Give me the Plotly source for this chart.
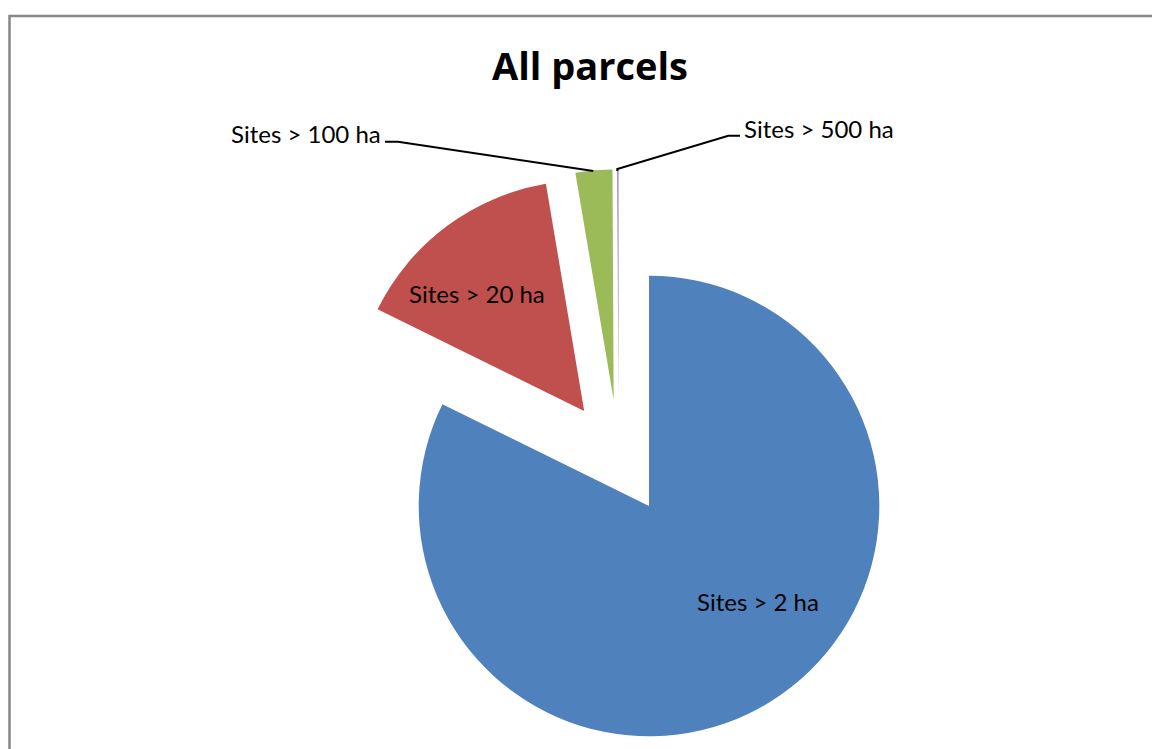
import plotly.graph_objects as go

# ---- data ----
labels = ["Sites > 2 ha", "Sites > 20 ha", "Sites > 100 ha", "Sites > 500 ha"]
values = [82.28, 15.06, 2.58, 0.08]
colors = ["#4F81BD", "#C0504D", "#9BBB59", "#8064A2"]
explode = [0.25, 0.25, 0.25, 0.25]
title_text = "All parcels"

# ---- layout geometry (page pixels; the page body has an 8px margin) ----
OFF = 8
W, H = 1160 - OFF, 749 - OFF
cx, cy, R = 618.6 - OFF, 457.1 - OFF, 230.3
half = R * (1 + max(explode))
dom_x = [(cx - half) / W, (cx + half) / W]
dom_y = [1 - (cy + half) / H, 1 - (cy - half) / H]

def px(x, y):
    return (x - OFF) / W, 1 - (y - OFF) / H

fig = go.Figure()
fig.add_trace(go.Pie(
    labels=labels, values=values, sort=False, direction="clockwise", rotation=0,
    pull=explode, marker=dict(colors=colors, line=dict(width=0)),
    textinfo="none", hoverinfo="label+percent", showlegend=False,
    domain=dict(x=dom_x, y=dom_y),
))

label_font = dict(family="Lato", size=24, color="black")
label_pos = [(758.3, 601.5), (477, 293.3), (305.5, 133.8), (819, 128.7)]
for lab, (x, y) in zip(labels, label_pos):
    ax_, ay_ = px(x, y)
    fig.add_annotation(x=ax_, y=ay_, xref="paper", yref="paper", text=lab,
                       showarrow=False, xanchor="center", yanchor="middle",
                       font=label_font)

# leader lines
def path(points):
    s = ""
    for i, (x, y) in enumerate(points):
        X, Y = px(x, y)
        s += ("M" if i == 0 else "L") + f"{X},{Y} "
    return s

shapes = [
    dict(type="path", xref="paper", yref="paper",
         path=path([(385, 141.7), (398, 141.7), (593.3, 171)]),
         line=dict(color="black", width=2)),
    dict(type="path", xref="paper", yref="paper",
         path=path([(740, 135.7), (728.3, 135.7), (617.3, 169), (617.3, 171)]),
         line=dict(color="black", width=2)),
]
# chart border (extends beyond visible area on right and bottom)
bx0, by0 = px(9.5, 16)
bx1, by1 = px(1180, 780)
shapes.append(dict(type="rect", xref="paper", yref="paper", x0=bx0, y0=by1, x1=bx1, y1=by0,
                   line=dict(color="#878787", width=2.5), fillcolor="rgba(0,0,0,0)", layer="below"))

tx, ty = px(590, 67)
fig.update_layout(
    width=W, height=H, margin=dict(l=0, r=0, t=0, b=0),
    paper_bgcolor="white", plot_bgcolor="white",
    title=dict(text="<b>" + title_text + "</b>", x=tx, xanchor="center",
               y=ty, yanchor="middle", yref="container",
               font=dict(family="Open Sans", size=38, color="black")),
    shapes=shapes,
)

fig.write_html("out.html")
